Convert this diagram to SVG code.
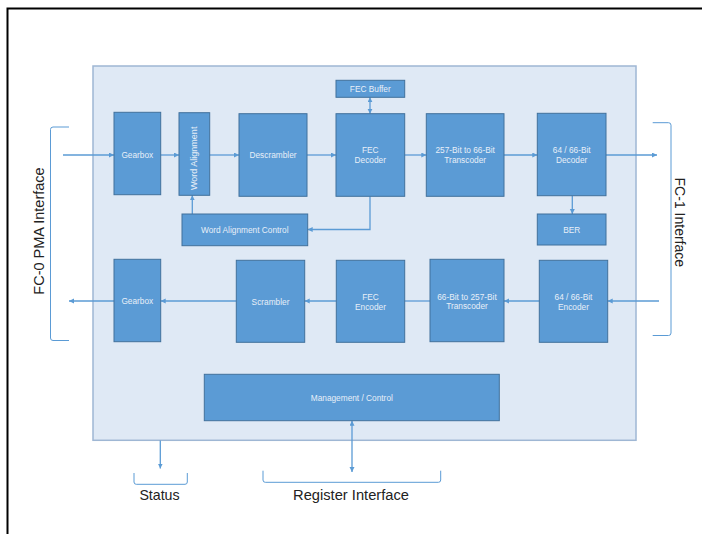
<svg xmlns="http://www.w3.org/2000/svg" width="702" height="534" viewBox="0 0 702 534">
<defs>
<marker id="ah" markerUnits="userSpaceOnUse" markerWidth="6" markerHeight="6" refX="5" refY="2.5" orient="auto-start-reverse">
<path d="M0,0 L5,2.5 L0,5 z" fill="#5b9bd5"/>
</marker>
<style>
.box{fill:#5b9bd5;stroke:#41719c;stroke-width:1}
.bt{font-family:"Liberation Sans",Arial,sans-serif;font-size:8.3px;fill:#e8eff8;text-anchor:middle}
.c{fill:none;stroke:#5b9bd5;stroke-width:1.3}
.a{marker-end:url(#ah)}
.d{marker-start:url(#ah);marker-end:url(#ah)}
.br{fill:none;stroke:#5b9bd5;stroke-width:1}
.lt{font-family:"Liberation Sans",Arial,sans-serif;fill:#222;text-anchor:middle}
</style>
</defs>
<rect x="7.5" y="8.5" width="700" height="530" fill="#fff" stroke="#000" stroke-width="2"/>
<rect id="panel" x="93" y="66" width="543" height="374.3" fill="#dfe9f5" stroke="#9fb7d4" stroke-width="1.5"/>

<g id="connectors">
<path class="c a" d="M63,155 H114"/>
<path class="c a" d="M160.7,155 H179"/>
<path class="c a" d="M209.7,155 H239"/>
<path class="c a" d="M307,155 H336"/>
<path class="c a" d="M404.7,155 H426.3"/>
<path class="c a" d="M504,155 H537.3"/>
<path class="c a" d="M606,155 H657"/>
<path class="c a" d="M572.3,195.7 V214"/>
<path class="c a" d="M370,196.3 V229.5 H307.7"/>
<path class="c a" d="M192.3,214 V195.3"/>
<path class="c d" d="M370,97.3 V113.7"/>
<path class="c a" d="M659,301 H607.7"/>
<path class="c a" d="M539.3,301 H504"/>
<path class="c" d="M430,301 H404.7"/>
<path class="c a" d="M336.3,301 H304.7"/>
<path class="c a" d="M236.3,301 H160.7"/>
<path class="c a" d="M114,301 H69"/>
<path class="c a" d="M160.3,440.5 V468.5"/>
<path class="c d" d="M352,420.7 V472"/>
</g>

<g id="brackets">
<path class="br" d="M69,127 H53 Q50.5,127 50.5,129.5 V338 Q50.5,340.5 53,340.5 H69"/>
<path class="br" d="M652.7,122.7 H668.5 Q671,122.7 671,125.2 V333 Q671,335.5 668.5,335.5 H652.7"/>
<path class="br" d="M134,473 V482 Q134,484.3 136.3,484.3 H185 Q187.3,484.3 187.3,482 V473"/>
<path class="br" d="M263,470.7 V480 Q263,482.3 265.3,482.3 H438.4 Q440.7,482.3 440.7,480 V470.7"/>
</g>

<g id="fec-buffer"><rect class="box" x="336" y="80.3" width="68.7" height="17"/><text class="bt" x="370.3" y="92">FEC Buffer</text></g>
<g id="gearbox-rx"><rect class="box" x="114" y="112.3" width="46.7" height="82.4"/><text class="bt" x="137.3" y="157.5">Gearbox</text></g>
<g id="word-alignment"><rect class="box" x="179" y="112.7" width="30.7" height="82.6"/><text class="bt" style="font-size:9px" transform="translate(197.3,158.3) rotate(-90)">Word Alignment</text></g>
<g id="descrambler"><rect class="box" x="239" y="113.7" width="68" height="82.6"/><text class="bt" x="273" y="158">Descrambler</text></g>
<g id="fec-decoder"><rect class="box" x="336" y="113.7" width="68.7" height="82.6"/><text class="bt" x="370.3" y="153">FEC</text><text class="bt" x="370.3" y="163">Decoder</text></g>
<g id="transcoder-257-66"><rect class="box" x="426.3" y="113.7" width="77.7" height="82.6"/><text class="bt" x="465.2" y="153">257-Bit to 66-Bit</text><text class="bt" x="465.2" y="163">Transcoder</text></g>
<g id="decoder-64-66"><rect class="box" x="537.3" y="113.3" width="68.7" height="82.4"/><text class="bt" x="571.7" y="153">64 / 66-Bit</text><text class="bt" x="571.7" y="163">Decoder</text></g>
<g id="word-alignment-control"><rect class="box" x="182" y="214" width="125.7" height="31.7"/><text class="bt" x="244.8" y="233">Word Alignment Control</text></g>
<g id="ber"><rect class="box" x="537.3" y="214" width="68.7" height="31"/><text class="bt" x="571.7" y="233">BER</text></g>
<g id="gearbox-tx"><rect class="box" x="114" y="259.3" width="46.7" height="82.4"/><text class="bt" x="137.3" y="304">Gearbox</text></g>
<g id="scrambler"><rect class="box" x="236.3" y="260.3" width="68.4" height="82"/><text class="bt" x="270.5" y="305">Scrambler</text></g>
<g id="fec-encoder"><rect class="box" x="336.3" y="260.3" width="68.4" height="82"/><text class="bt" x="370.5" y="299.7">FEC</text><text class="bt" x="370.5" y="309.7">Encoder</text></g>
<g id="transcoder-66-257"><rect class="box" x="430" y="259.3" width="74" height="82.4"/><text class="bt" x="467" y="299.7">66-Bit to 257-Bit</text><text class="bt" x="467" y="308.7">Transcoder</text></g>
<g id="encoder-64-66"><rect class="box" x="539.3" y="260.3" width="68.4" height="82"/><text class="bt" x="573.5" y="300">64 / 66-Bit</text><text class="bt" x="573.5" y="310">Encoder</text></g>
<g id="management-control"><rect class="box" x="204.3" y="374.3" width="295" height="46.4"/><text class="bt" x="351.8" y="401">Management / Control</text></g>

<g id="labels">
<text class="lt" style="font-size:14.5px" transform="translate(44,231) rotate(-90)">FC-0 PMA Interface</text>
<text class="lt" style="font-size:14px" transform="translate(675,222.3) rotate(90)">FC-1 Interface</text>
<text class="lt" style="font-size:14.2px" x="159.5" y="500">Status</text>
<text class="lt" style="font-size:14.7px" x="351" y="499.5">Register Interface</text>
</g>
</svg>
